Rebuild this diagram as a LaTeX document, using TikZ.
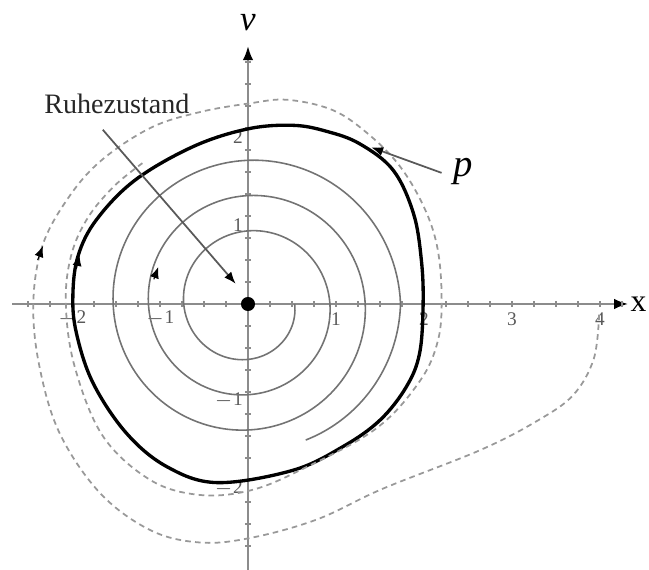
\documentclass[tikz,border=0pt]{standalone}
\usepackage{fontspec}
\setmainfont{Liberation Serif}
\usetikzlibrary{arrows.meta}
\definecolor{axisgray}{gray}{0.55}
\definecolor{spiralgray}{gray}{0.45}
\definecolor{dashgray}{gray}{0.6}
\definecolor{labgray}{gray}{0.35}
\tikzset{
  axisline/.style={axisgray, line width=0.6pt},
  limitcyc/.style={black, line width=0.95pt},
  spiral/.style={spiralgray, line width=0.45pt},
  traj/.style={dashgray, line width=0.5pt, dash pattern=on 1.6pt off 1.2pt},
  ticklab/.style={labgray, font=\fontsize{5.5}{6}\selectfont, inner sep=0.5pt},
  tip/.style={black, line width=0.3pt, -{Latex[length=3.2pt,width=2.6pt]}},
  pointer/.style={black!65, line width=0.5pt, -{Latex[length=3.4pt,width=2.6pt,color=black]}}
}
\begin{document}
\begin{tikzpicture}[x=0.88cm,y=0.88cm]
\useasboundingbox (-2.48cm,-2.66cm) rectangle (4.01cm,3.04cm);
% axes
\coordinate (xs) at (-2.68,0);
\coordinate (xe) at (4.32,0);
\coordinate (ys) at (0,-3.1);
\coordinate (ye) at (0,2.93);
\draw[axisline, -{Latex[length=4pt,width=3pt,color=black]}] (xs) -- (xe);
\draw[axisline, -{Latex[length=4pt,width=3pt,color=black]}] (ys) -- (ye);
\foreach \t in {-2.5,-2.25,...,4.26} \draw[axisgray, line width=0.3pt] (\t,-0.03) -- (\t,0.03);
\foreach \t in {-2.75,-2.5,...,2.76} \draw[axisgray, line width=0.3pt] (-0.03,\t) -- (0.03,\t);
\node[font=\itshape\fontsize{10}{12}\selectfont] (vlab) at (0,3.2) {v};
\node[font=\fontsize{9}{11}\selectfont, anchor=east, inner sep=0.5pt] (xlab) at (4.01cm,0) {x};
% tick labels
\foreach \v/\s in {-2/$-$2,-1/$-$1,1/1,2/2,3/3,4/4}
  \node[ticklab] (xl\v) at (\v,-0.17) {\s};
\foreach \v/\s in {1/1,2/2,-1/$-$1,-2/$-$2}
  \node[ticklab, anchor=east] (yl\v) at (-0.03,\v-0.1) {\s};
% spiral
\draw[spiral] plot[smooth, domain=0:1147, samples=300, variable=\t]
  ({(0.53+0.00112*min(\t,1080)-0.0008*max(\t-1080,0))*cos(\t)},
   {-(0.53+0.00112*min(\t,1080)-0.0008*max(\t-1080,0))*sin(\t)});
% limit cycle
\draw[limitcyc] plot[smooth cycle, tension=0.6] coordinates {
 (0,1.99) (0.515,2.03) (0.9,1.96) (1.27,1.82) (1.65,1.52) (1.88,1.03) (1.97,0.5) (1.99,0)
 (1.95,-0.56) (1.8,-0.94) (1.5,-1.32) (1.08,-1.62) (0.51,-1.89) (-0.35,-2.03) (-0.92,-1.85)
 (-1.38,-1.47) (-1.76,-0.9) (-1.95,-0.33) (-1.99,0.1) (-1.93,0.55) (-1.72,0.96) (-1.28,1.41) (-0.62,1.79)};
% dashed trajectory
\draw[traj] plot[smooth, tension=0.6] coordinates {
 (3.99,-0.12) (3.93,-0.62) (3.7,-1.03) (3.3,-1.32) (2.64,-1.66) (1.53,-2.1) (0.78,-2.45) (0.02,-2.66)
 (-0.55,-2.71) (-1.11,-2.57) (-1.68,-2.15) (-2.14,-1.47) (-2.37,-0.71) (-2.44,0.0) (-2.34,0.65)
 (-2.06,1.18) (-1.68,1.62) (-1.11,2.0) (-0.55,2.18) (0.02,2.28) (0.45,2.32) (0.97,2.2) (1.38,1.92)
 (1.73,1.56) (2.0,1.1) (2.15,0.65) (2.2,0.1) (2.16,-0.41) (1.95,-0.88) (1.45,-1.42) (0.59,-1.89)
 (0.02,-2.12) (-0.55,-2.17) (-1.11,-2.0) (-1.65,-1.5) (-1.97,-0.71) (-2.07,0.0) (-2.01,0.55)
 (-1.82,0.98) (-1.52,1.34) (-1.2,1.6)};
% direction tips
\coordinate (a1s) at (-1.95,0.4); \coordinate (a1e) at (-1.915,0.56);
\draw[tip] (a1s) -- (a1e);
\coordinate (a2s) at (-1.07,0.28); \coordinate (a2e) at (-1.02,0.42);
\draw[tip] (a2s) -- (a2e);
\coordinate (a3s) at (-2.39,0.5); \coordinate (a3e) at (-2.33,0.66);
\draw[tip] (a3s) -- (a3e);
% rest point
\node[circle, fill=black, inner sep=0pt, minimum size=4pt] (o) at (0,0) {};
% labels with pointers
\node[font=\fontsize{8}{10}\selectfont, black!85] (ruhe) at (-1.49,2.27) {Ruhezustand};
\coordinate (rs) at (-1.65,1.98);
\coordinate (re) at (-0.14,0.23);
\draw[pointer] (rs) -- (re);
\node[font=\itshape\fontsize{11}{13}\selectfont] (plab) at (2.44,1.5) {p};
\coordinate (ps) at (2.2,1.49);
\coordinate (pe) at (1.4,1.78);
\draw[pointer] (ps) -- (pe);
\end{tikzpicture}
\end{document}
